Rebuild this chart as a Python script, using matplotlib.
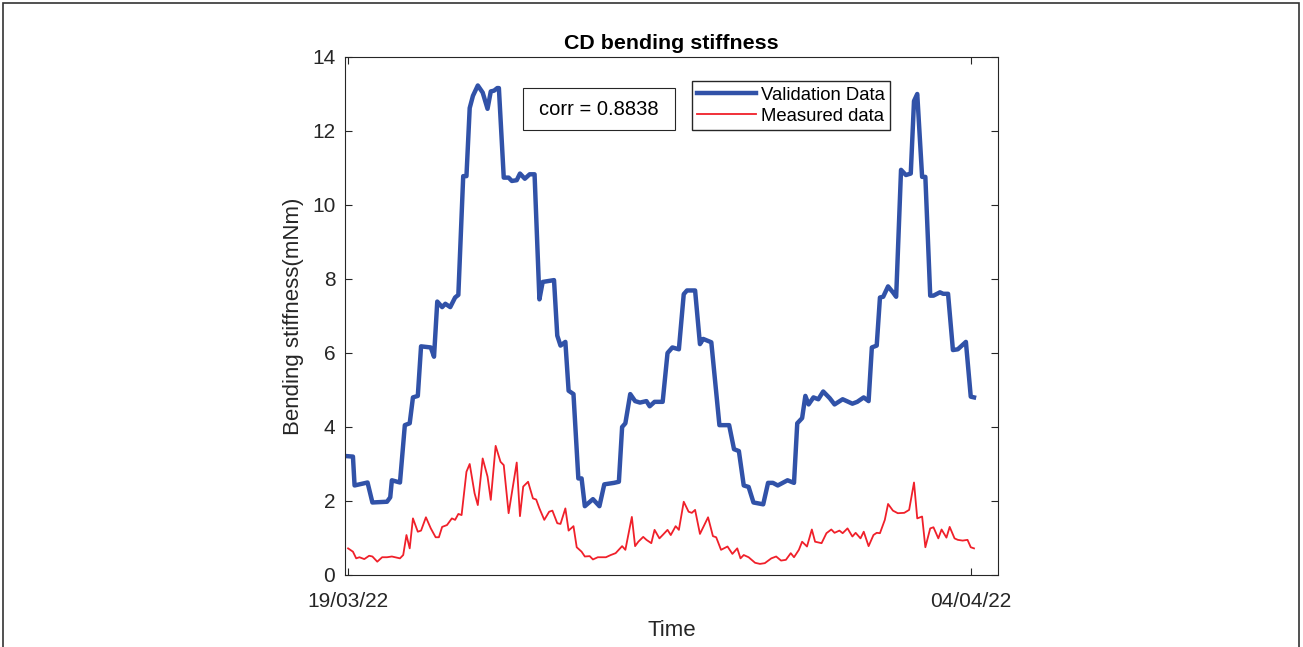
import pandas as pd
import matplotlib
matplotlib.use("Agg")
import matplotlib.pyplot as plt
from matplotlib.patches import Rectangle

plt.rcParams['font.family'] = ['Liberation Sans', 'DejaVu Sans']

start = pd.Timestamp("2022-03-19")
tick_dates = [pd.Timestamp("2022-03-19"), pd.Timestamp("2022-04-04")]
tick_labels = ["19/03/22", "04/04/22"]

# hours since 19/03/22 00:00
blue_hours = [0, 3, 4, 12, 15, 24, 26, 27, 32, 35,
              38, 40, 43, 45, 51, 53, 55, 58, 60, 63,
              66, 68, 71, 73, 75, 77, 80, 83, 86, 88,
              90, 92, 93, 96, 99, 101, 104, 106, 109, 112,
              115, 118, 120, 127, 129, 131, 134, 136, 139, 142,
              144, 146, 151, 155, 158, 164, 167, 169, 171, 174,
              177, 180, 184, 186, 189, 194, 197, 200, 204, 207,
              209, 214, 217, 219, 224, 229, 235, 238, 241, 244,
              247, 250, 256, 259, 262, 265, 271, 275, 277, 280,
              282, 284, 287, 290, 293, 297, 300, 305, 311, 314,
              318, 321, 323, 326, 328, 330, 333, 336, 338, 341,
              344, 347, 349, 351, 354, 356, 359, 361, 365, 367,
              370, 373, 376, 381, 384, 386]
blue_vals = [3.21, 3.20, 2.42, 2.50, 1.96, 1.98, 2.10, 2.56, 2.50, 4.05,
             4.10, 4.80, 4.84, 6.18, 6.15, 5.90, 7.39, 7.24, 7.33, 7.24,
             7.50, 7.57, 10.78, 10.78, 12.62, 12.95, 13.23, 13.04, 12.60, 13.07,
             13.09, 13.16, 13.16, 10.74, 10.74, 10.65, 10.67, 10.85, 10.71, 10.83,
             10.83, 7.45, 7.92, 7.97, 6.47, 6.20, 6.30, 4.98, 4.89, 2.61,
             2.61, 1.86, 2.05, 1.86, 2.45, 2.49, 2.52, 4.00, 4.10, 4.89,
             4.70, 4.66, 4.70, 4.56, 4.68, 4.68, 6.00, 6.15, 6.10, 7.59,
             7.69, 7.69, 6.24, 6.38, 6.29, 4.05, 4.05, 3.40, 3.35, 2.42,
             2.38, 1.96, 1.91, 2.49, 2.49, 2.42, 2.56, 2.49, 4.10, 4.24,
             4.84, 4.61, 4.80, 4.75, 4.96, 4.78, 4.61, 4.75, 4.63, 4.68,
             4.80, 4.70, 6.15, 6.20, 7.50, 7.52, 7.80, 7.64, 7.52, 10.95,
             10.81, 10.85, 12.81, 13.00, 10.76, 10.76, 7.55, 7.55, 7.64, 7.60,
             7.60, 6.08, 6.10, 6.30, 4.82, 4.80]

red_hours = [0, 3, 5, 7, 10, 13, 15, 18, 21, 24,
             27, 29, 32, 34, 36, 38, 40, 43, 45, 48,
             51, 54, 56, 58, 61, 64, 66, 68, 70, 73,
             75, 78, 80, 83, 86, 88, 91, 94, 96, 99,
             104, 106, 108, 111, 114, 116, 118, 121, 124, 126,
             129, 131, 134, 136, 139, 141, 144, 146, 149, 151,
             154, 159, 162, 165, 169, 171, 175, 177, 179, 182,
             184, 187, 189, 192, 194, 197, 199, 202, 204, 207,
             210, 212, 214, 217, 222, 225, 227, 230, 234, 237,
             240, 242, 244, 247, 251, 254, 257, 261, 264, 267,
             270, 273, 275, 278, 280, 283, 286, 288, 292, 295,
             298, 300, 303, 305, 308, 311, 313, 316, 318, 321,
             324, 326, 328, 331, 333, 336, 339, 343, 346, 349,
             351, 354, 356, 359, 361, 364, 366, 369, 371, 374,
             376, 379, 382, 384, 386]
red_vals = [0.72, 0.63, 0.45, 0.48, 0.43, 0.52, 0.50, 0.36, 0.48, 0.48,
            0.50, 0.48, 0.45, 0.54, 1.08, 0.72, 1.53, 1.17, 1.20, 1.56,
            1.26, 1.02, 1.02, 1.30, 1.35, 1.53, 1.49, 1.65, 1.62, 2.79,
            3.00, 2.21, 1.89, 3.15, 2.66, 2.03, 3.49, 3.06, 2.97, 1.67,
            3.04, 1.59, 2.39, 2.52, 2.07, 2.04, 1.80, 1.49, 1.71, 1.74,
            1.40, 1.38, 1.80, 1.20, 1.32, 0.75, 0.63, 0.50, 0.51, 0.42,
            0.48, 0.48, 0.54, 0.59, 0.78, 0.68, 1.57, 0.78, 0.90, 1.03,
            0.95, 0.86, 1.22, 0.99, 1.08, 1.22, 1.08, 1.32, 1.22, 1.98,
            1.71, 1.68, 1.76, 1.11, 1.56, 1.05, 1.02, 0.68, 0.77, 0.57,
            0.72, 0.45, 0.54, 0.48, 0.33, 0.30, 0.32, 0.45, 0.50, 0.39,
            0.41, 0.59, 0.48, 0.68, 0.90, 0.77, 1.23, 0.90, 0.86, 1.13,
            1.23, 1.14, 1.20, 1.13, 1.26, 1.04, 1.14, 0.99, 1.17, 0.78,
            1.08, 1.14, 1.13, 1.49, 1.92, 1.74, 1.67, 1.68, 1.76, 2.50,
            1.53, 1.58, 0.75, 1.26, 1.29, 0.99, 1.23, 1.01, 1.30, 0.99,
            0.95, 0.93, 0.95, 0.75, 0.72]

corr_text = "corr = 0.8838"

blue_t = start + pd.to_timedelta(blue_hours, unit="h")
red_t = start + pd.to_timedelta(red_hours, unit="h")

axc = '#262626'
fig = plt.figure(figsize=(13.03, 6.47), dpi=100)
ax = fig.add_axes([345/1303, 1 - 575/647, 653/1303, 518/647])

ax.plot(blue_t, blue_vals, color='#3152A8', lw=3.2, label='Validation Data')
ax.plot(red_t, red_vals, color='#F0202A', lw=1.3, label='Measured data')

ax.set_ylim(0, 14)
ax.set_yticks(range(0, 15, 2))
ax.set_xlim(start - pd.Timedelta(hours=1.9), start + pd.Timedelta(hours=400.8))
ax.set_xticks(tick_dates)
ax.set_xticklabels(tick_labels)
ax.tick_params(direction='in', length=5, width=0.8, colors=axc, labelsize=15,
               top=True, right=True)
ax.tick_params(axis='x', pad=12)
ax.tick_params(axis='y', pad=7)
for s in ax.spines.values():
    s.set_color(axc)
    s.set_linewidth(0.8)

ax.set_title("CD bending stiffness", fontsize=15.4, fontweight='bold', pad=6)
ax.set_xlabel("Time", fontsize=16, color=axc, labelpad=7)
ax.set_ylabel("Bending stiffness(mNm)", fontsize=16, color=axc, labelpad=6)

ax.legend(loc='upper left', bbox_to_anchor=(0.531, 0.9537), borderaxespad=0,
          fancybox=False, edgecolor=axc, framealpha=1, fontsize=13.3,
          handlelength=3.2, handletextpad=0.25, borderpad=0.3, labelspacing=0.22)

ax.add_patch(Rectangle((0.2726, 0.859), 0.2328, 0.0811, transform=ax.transAxes,
                       facecolor='white', edgecolor=axc, lw=0.8, zorder=5))
ax.text(0.389, 0.8996, corr_text, transform=ax.transAxes, ha='center', va='center',
        fontsize=14.5, color='black', zorder=6)

# outer frame of the figure
fig.patches.append(Rectangle((3/1303, -0.05), 1296/1303, 0.05 + 1 - 3/647,
                             transform=fig.transFigure, fill=False,
                             edgecolor='#333333', lw=1.2))

fig.savefig("out.png", dpi=100)
